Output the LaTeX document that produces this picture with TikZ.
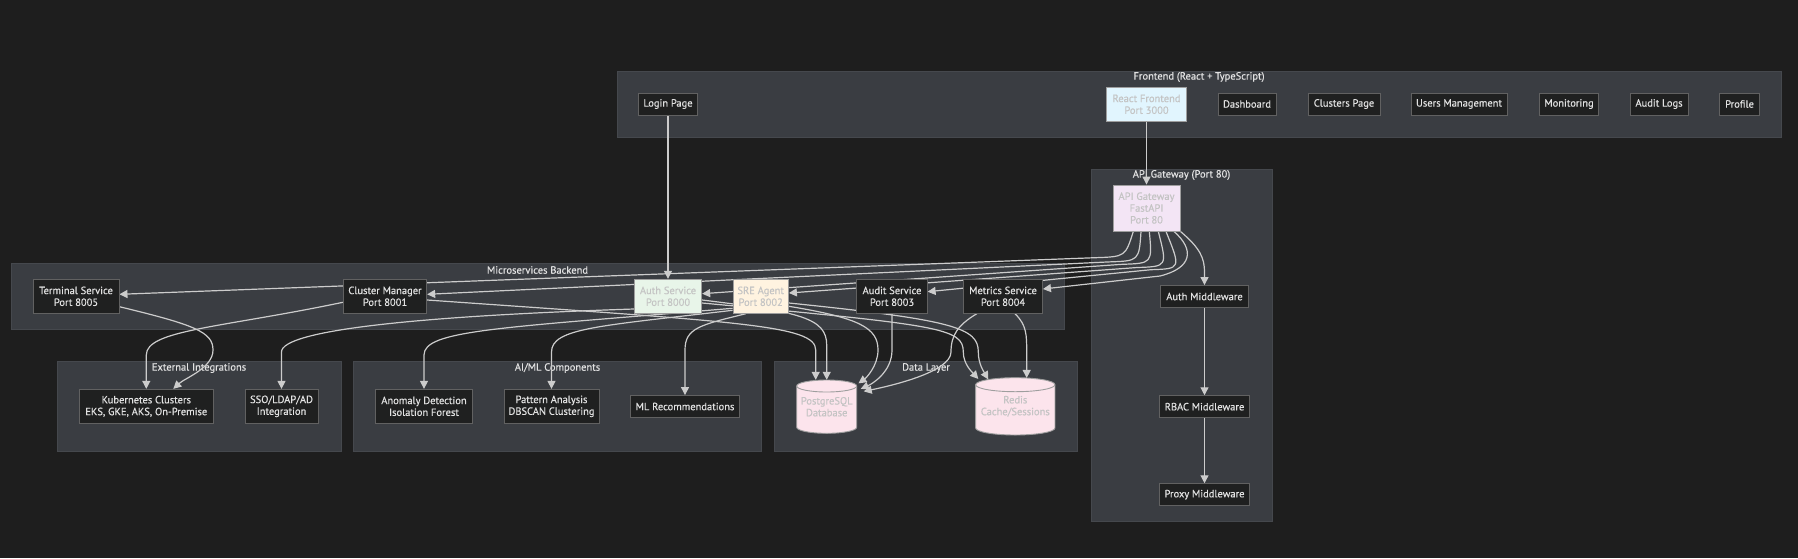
\documentclass[tikz,border=0pt]{standalone}
\usepackage{fontspec}
\setmainfont{PT Sans}[FakeBold=0.45]
\usetikzlibrary{arrows.meta,calc}
\definecolor{bgc}{HTML}{1E1E1E}
\definecolor{sgfill}{HTML}{3A3D42}
\definecolor{sgdraw}{HTML}{45484D}
\definecolor{ndfill}{HTML}{1F2020}
\definecolor{nddraw}{HTML}{616161}
\definecolor{ndtext}{HTML}{E2E2E2}
\definecolor{edgec}{HTML}{CCCCCC}
\definecolor{lighttext}{HTML}{C4C4C4}
\definecolor{cblue}{HTML}{E1F5FE}
\definecolor{cpurple}{HTML}{F3E5F5}
\definecolor{cgreen}{HTML}{E8F5E9}
\definecolor{corange}{HTML}{FFF3E0}
\definecolor{cpink}{HTML}{FCE4EC}
\definecolor{cborder}{HTML}{9E9E9E}
\pgfdeclarelayer{bglayer}
\pgfdeclarelayer{edgelayer}
\pgfsetlayers{bglayer,edgelayer,main}
\tikzset{
  nd/.style={draw=nddraw, fill=ndfill, text=ndtext, line width=0.9pt, inner sep=0pt, align=center, font=\fontsize{10.5}{11.8}\selectfont, minimum height=22pt},
  two/.style={minimum height=34pt},
  three/.style={minimum height=46pt},
  lite/.style={draw=cborder, text=lighttext},
  sg/.style={fill=sgfill, draw=sgdraw, line width=0.8pt},
  sgtitle/.style={text=ndtext, font=\fontsize{10.5}{12}\selectfont, inner sep=0pt},
  edge/.style={draw=edgec, line width=1.2pt, -{Triangle[length=8pt,width=8pt]}},
  cyl/.style={fill=cpink, draw=cborder, line width=0.9pt},
  cyltext/.style={text=lighttext, font=\fontsize{10.5}{11.8}\selectfont, inner sep=0pt, align=center},
}
\begin{document}
\begin{tikzpicture}[x=1pt,y=-1pt]
\useasboundingbox (0,0) rectangle (1798,558);
\begin{pgfonlayer}{bglayer}
\fill[bgc] (0,0) rectangle (1798,558);
\path[sg] (617,71) rectangle (1781,137);
\path[sg] (1091,169.3) rectangle (1272,521.3);
\path[sg] (11,263.3) rectangle (1064,329.3);
\path[sg] (57.3,361.7) rectangle (341,451);
\path[sg] (353.3,361.7) rectangle (761.7,451);
\path[sg] (774.3,361.7) rectangle (1077.7,451);
\node[sgtitle] (tfront) at (1199,77) {Frontend (React + TypeScript)};
\node[sgtitle] (tgate) at (1181.5,175) {API Gateway (Port 80)};
\node[sgtitle] (tmicro) at (537.5,270) {Microservices Backend};
\node[sgtitle] (text) at (199,368) {External Integrations};
\node[sgtitle] (tai) at (557.5,368) {AI/ML Components};
\node[sgtitle] (tdata) at (926,368) {Data Layer};
\end{pgfonlayer}

% Frontend
\node[nd, minimum width=59pt] (login) at (668,104) {Login Page};
\node[nd, two, lite, fill=cblue, minimum width=80pt] (react) at (1146.5,104.3) {React Frontend\\Port 3000};
\node[nd, minimum width=58pt] (dash) at (1247,104) {Dashboard};
\node[nd, minimum width=72pt] (clpage) at (1344,104) {Clusters Page};
\node[nd, minimum width=96pt] (users) at (1459,104) {Users Management};
\node[nd, minimum width=58.5pt] (monit) at (1569,104) {Monitoring};
\node[nd, minimum width=58pt] (alogs) at (1659,104) {Audit Logs};
\node[nd, minimum width=40pt] (profile) at (1739.5,104) {Profile};
% Gateway
\node[nd, three, lite, fill=cpurple, minimum width=67pt] (gw) at (1146.5,208) {API Gateway\\FastAPI\\Port 80};
\node[nd, minimum width=88pt] (authmw) at (1204.5,296.5) {Auth Middleware};
\node[nd, minimum width=90.5pt] (rbac) at (1204.5,406.7) {RBAC Middleware};
\node[nd, minimum width=90.5pt] (proxy) at (1204.5,494.7) {Proxy Middleware};
% Microservices
\node[nd, two, minimum width=86pt] (term) at (76,296.3) {Terminal Service\\Port 8005};
\node[nd, two, minimum width=83.4pt] (clmgr) at (385,296.3) {Cluster Manager\\Port 8001};
\node[nd, two, lite, fill=cgreen, minimum width=67.4pt] (authsvc) at (668,296.3) {Auth Service\\Port 8000};
\node[nd, two, lite, fill=corange, minimum width=55.5pt] (sre) at (760.7,296.3) {SRE Agent\\Port 8002};
\node[nd, two, minimum width=70.3pt] (auditsvc) at (892,296.3) {Audit Service\\Port 8003};
\node[nd, two, minimum width=79pt] (metrics) at (1003,296.3) {Metrics Service\\Port 8004};
% External
\node[nd, two, minimum width=134pt] (k8s) at (146.3,406.3) {Kubernetes Clusters\\EKS, GKE, AKS, On-Premise};
\node[nd, two, minimum width=73pt] (sso) at (281.5,406.3) {SSO/LDAP/AD\\Integration};
% AI/ML
\node[nd, two, minimum width=96.7pt] (anomaly) at (424,406.3) {Anomaly Detection\\Isolation Forest};
\node[nd, two, minimum width=95pt] (pattern) at (551.5,406.3) {Pattern Analysis\\DBSCAN Clustering};
\node[nd, minimum width=108.3pt] (mlrec) at (685,406.5) {ML Recommendations};
% Data layer cylinders
\path[cyl] (796.7,386) -- (796.7,427.3) arc[start angle=180, end angle=360, x radius=30pt, y radius=6pt] -- (856.7,386) arc[start angle=0, end angle=180, x radius=30pt, y radius=6pt] -- cycle;
\draw[cborder, line width=0.9pt] (796.7,386) arc[start angle=180, end angle=360, x radius=30pt, y radius=6pt];
\node[cyltext, minimum width=60pt, minimum height=53.3pt] (pg) at (826.7,406.7) {PostgreSQL\\Database};
\path[cyl] (975.65,384.7) -- (975.65,428) arc[start angle=180, end angle=360, x radius=39.65pt, y radius=7pt] -- (1054.95,384.7) arc[start angle=0, end angle=180, x radius=39.65pt, y radius=7pt] -- cycle;
\draw[cborder, line width=0.9pt] (975.65,384.7) arc[start angle=180, end angle=360, x radius=39.65pt, y radius=7pt];
\node[cyltext, minimum width=79.3pt, minimum height=57.3pt] (redis) at (1015.3,406.3) {Redis\\Cache/Sessions};

\begin{pgfonlayer}{edgelayer}
\draw[edge] (react.south) -- (gw.north);
\draw[edge] (login.south) -- (authsvc.north);
\draw[edge] (gw.south east) .. controls (1200,248) and (1204.5,258) .. (1204.5,272) -- (authmw.north);
\draw[edge] (authmw.south) -- (rbac.north);
\draw[edge] (rbac.south) -- (proxy.north);
% gateway to services
\draw[edge] ($(gw.south)+(-13.2,0)$) .. controls (1125.3,256.7) and (1125.3,256.7) .. (1095,257.7) -- ($(term.east)+(0,-2)$);
\draw[edge] ($(gw.south)+(-5.5,0)$) .. controls (1139,260.9) and (1139,260.9) .. (1109,261.9) -- ($(clmgr.east)+(0,-2)$);
\draw[edge] ($(gw.south)+(2.8,0)$) .. controls (1152.3,263.3) and (1152.3,263.3) .. (1122.3,264.3) -- ($(authsvc.east)+(0,-2.6)$);
\draw[edge] ($(gw.south)+(11.8,0)$) .. controls (1167.3,266.5) and (1167.3,266.5) .. (1137.3,267.5) -- ($(sre.east)+(0,-3.3)$);
\draw[edge] ($(gw.south)+(19.5,0)$) .. controls (1181,268.7) and (1181,268.7) .. (1151,269.7) -- ($(auditsvc.east)+(0,-4.6)$);
\draw[edge] ($(gw.south)+(27.5,0)$) .. controls (1195,250) and (1192,268) .. (1160,276) -- ($(metrics.east)+(0,-7.3)$);
% services to externals
\draw[edge] ($(term.east)+(0,10.4)$) .. controls (195,325) and (213,332) .. (213,350) .. controls (213,368) and (185,378) .. ($(k8s.north)+(27,0)$);
\draw[edge] ($(clmgr.west)+(0,6)$) .. controls (220,328) and (146.3,330) .. (146.3,355) -- (k8s.north);
\draw[edge] ($(authsvc.west)+(0,12.7)$) .. controls (420,316) and (281.5,330) .. (281.5,352) -- (sso.north);
% SRE to AI/ML
\draw[edge] ($(sre.west)+(0,12)$) .. controls (500,328) and (424,330) .. (424,355) -- (anomaly.north);
\draw[edge] ($(sre.west)+(0,14)$) .. controls (600,326) and (551.5,328) .. (551.5,352) -- (pattern.north);
\draw[edge] ($(sre.south)+(-15,0)$) .. controls (700,325) and (685,328) .. (685,350) -- (mlrec.north);
% to data layer
\draw[edge] ($(clmgr.east)+(0,3.7)$) .. controls (740,322) and (815.7,325) .. (815.7,350) -- ($(pg.north)+(-11,0)$);
\draw[edge] ($(authsvc.east)+(0,3.7)$) .. controls (800,312) and (826.7,318) .. (826.7,345) -- (pg.north);
\draw[edge] ($(authsvc.east)+(0,6.7)$) .. controls (940,325) and (963.3,328) .. (963.3,352) .. controls (963.3,364) and (972,372) .. ($(redis.north)+(-37,1.5)$);
\draw[edge] ($(sre.east)+(0,6.7)$) .. controls (955,320) and (978.3,328) .. (978.3,352) .. controls (978.3,364) and (984,372) .. ($(redis.north)+(-27,2)$);
\draw[edge] ($(sre.east)+(0,10)$) .. controls (860,318) and (878,328) .. (878,350) .. controls (878,366) and (866,378) .. ($(pg.north east)+(1.6,3.5)$);
\draw[edge] (auditsvc.south) -- (892,350) .. controls (892,372) and (872,384) .. ($(pg.north east)+(3.8,9)$);
\draw[edge] ($(metrics.south)+(-26.3,0)$) .. controls (958,325) and (951,335) .. (951,352) .. controls (951,372) and (890,386) .. ($(pg.north east)+(6.8,11.5)$);
\draw[edge] ($(metrics.south)+(12,0)$) .. controls (1026.7,325) and (1026.7,335) .. (1026.7,352) -- ($(redis.north)+(11.4,0.5)$);
\end{pgfonlayer}
\end{tikzpicture}
\end{document}
